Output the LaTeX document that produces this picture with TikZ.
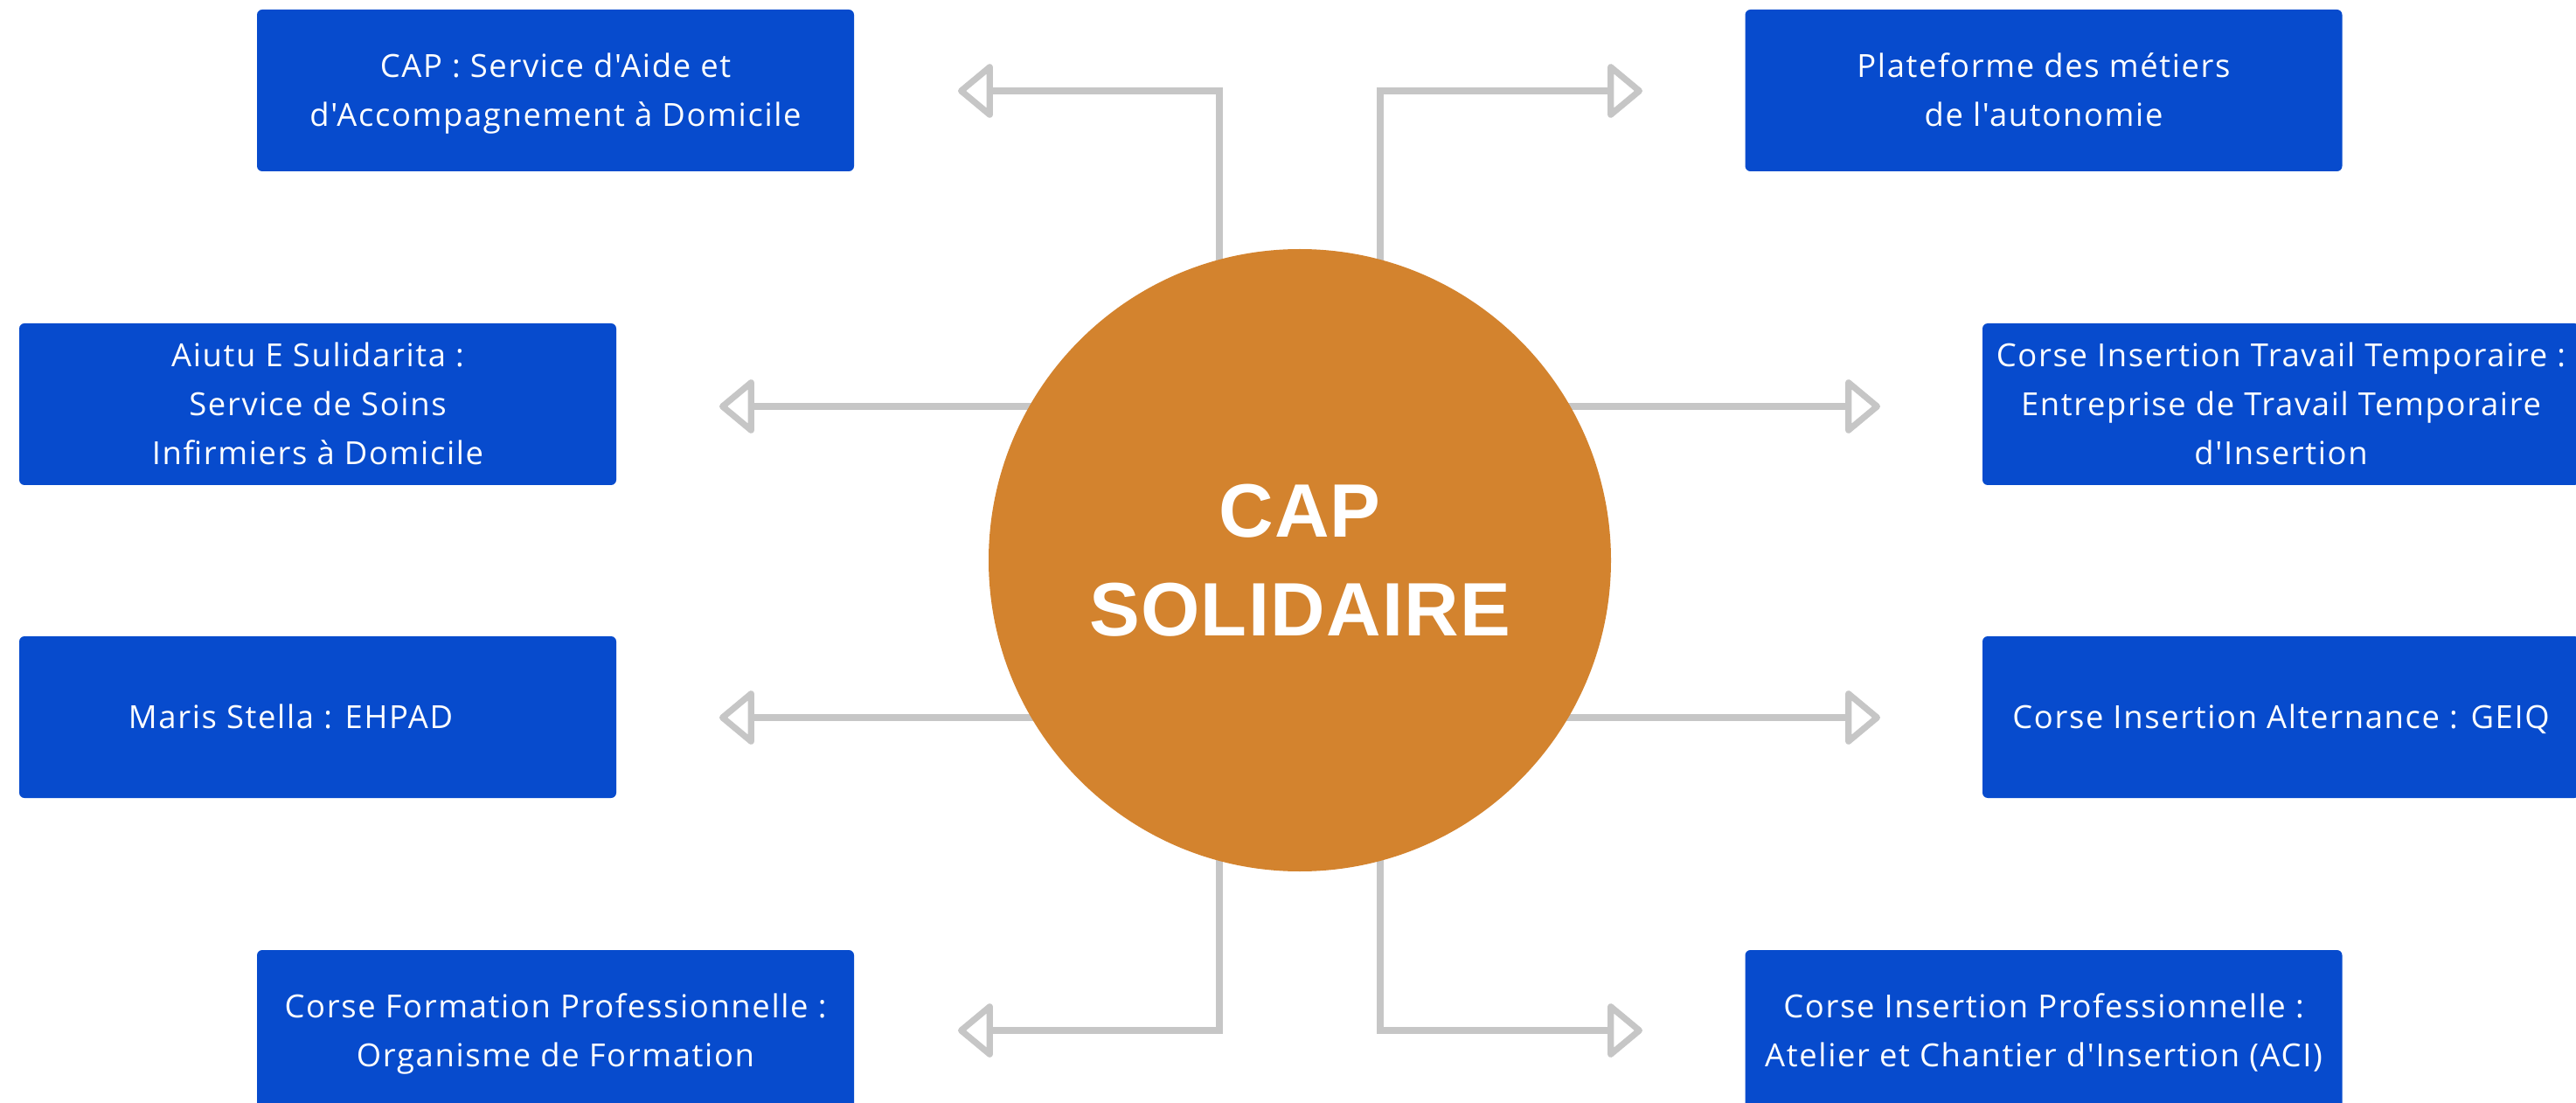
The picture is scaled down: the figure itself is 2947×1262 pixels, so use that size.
\documentclass[tikz,border=0pt]{standalone}
\usepackage{fontspec}
\setmainfont{Open Sans}[LetterSpace=4.5, Ligatures=TeXOff]
\newfontfamily\hubfont{Liberation Sans}[LetterSpace=1.5]
\usetikzlibrary{arrows.meta,backgrounds,calc}
\definecolor{boxblue}{RGB}{7,75,205}
\definecolor{hubor}{RGB}{211,131,46}
\definecolor{linkgray}{RGB}{198,198,198}

% centred lines at a fixed pitch, capitals centred in the box
\newcommand\boxlines[1]{%
  \raisebox{-0.9pt}[\height][\depth]{\begin{tabular}{@{}c@{}}#1\end{tabular}}}

\begin{document}
\begin{tikzpicture}[x=0.5pt,y=-0.5pt,
  unit box/.style={rectangle, rounded corners=3pt, fill=boxblue, text=white,
    minimum width=341.5pt, minimum height=92.5pt, inner sep=0pt,
    font=\fontsize{18.2}{28}\selectfont},
  hub/.style={circle, fill=hubor, minimum size=356pt, inner sep=0pt, text=white,
    align=center, font=\hubfont\bfseries\fontsize{43.3}{56.5}\selectfont},
  link/.style={draw=linkgray, line width=3.6pt,
    -{Triangle[open, length=21pt, width=34pt, round]}},
]
\useasboundingbox (0,0) rectangle (2947,1262);

% central hub
\node[hub] (hub) at (1487,641) {CAP\\SOLIDAIRE};

% member structures
\node[unit box] (saad)  at (635.5,103.5) {\boxlines{CAP : Service d'Aide et\\d'Accompagnement à Domicile}};
\node[unit box] (plat)  at (2338,103.5)  {\boxlines{Plateforme des métiers\\de l'autonomie}};
\node[unit box] (ssiad) at (363.5,462.5) {\boxlines{Aiutu E Sulidarita :\\Service de Soins\\Infirmiers à Domicile}};
\node[unit box] (ehpad) at (363.5,820.5) {\boxlines{Maris Stella : EHPAD\hspace*{31pt}}};
\node[unit box] (citt)  at (2609.5,462.5) {\boxlines{Corse Insertion Travail Temporaire :\\Entreprise de Travail Temporaire\\d'Insertion}};
\node[unit box] (geiq)  at (2609.5,820.5) {\boxlines{Corse Insertion Alternance : GEIQ}};
\node[unit box] (cfp)   at (635.5,1179.5) {\boxlines{Corse Formation Professionnelle :\\Organisme de Formation}};
\node[unit box] (cip)   at (2338,1179.5)  {\boxlines{Corse Insertion Professionnelle :\\Atelier et Chantier d'Insertion (ACI)}};

% arrow tips, each pointing at its structure
\coordinate (tSaad)  at (1096,104);
\coordinate (tPlat)  at (1879,104);
\coordinate (tSsiad) at (823,465);
\coordinate (tEhpad) at (823,821);
\coordinate (tCitt)  at (2151,465);
\coordinate (tGeiq)  at (2151,821);
\coordinate (tCfp)   at (1096,1179);
\coordinate (tCip)   at (1879,1179);

% connectors leave from behind the hub
\begin{scope}[on background layer]
  \draw[link] ($(hub.center)+(-92,0)$) |- (tSaad);
  \draw[link] ($(hub.center)+(92,0)$)  |- (tPlat);
  \draw[link] ($(hub.center)+(-92,0)$) |- (tCfp);
  \draw[link] ($(hub.center)+(92,0)$)  |- (tCip);
  \draw[link] (hub.center |- tSsiad) -- (tSsiad);
  \draw[link] (hub.center |- tEhpad) -- (tEhpad);
  \draw[link] (hub.center |- tCitt)  -- (tCitt);
  \draw[link] (hub.center |- tGeiq)  -- (tGeiq);
\end{scope}
\end{tikzpicture}
\end{document}
